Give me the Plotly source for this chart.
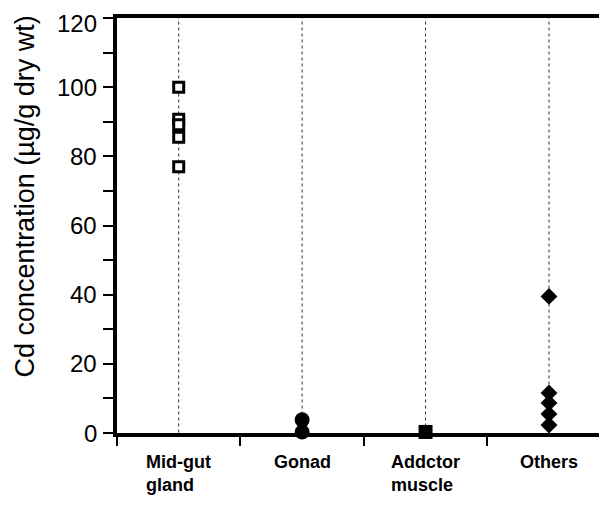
import plotly.graph_objects as go

categories = ["Mid-gut<br>gland", "Gonad", "Addctor<br>muscle", "Others"]
cat_pos = [0.5, 1.5, 2.5, 3.5]

midgut = [100, 90.7, 89.1, 85.5, 77.0]
gonad = [3.8, 0.3]
adductor = [0.3]
others = [39.5, 11.6, 8.7, 5.5, 2.3]

y_ticks = list(range(0, 121, 20))
y_minor = list(range(0, 121, 10))

FONT = "Liberation Sans, Arial, Helvetica, sans-serif"

fig = go.Figure()

# category guide lines
for xp in cat_pos:
    fig.add_shape(type="line", xref="x", yref="y", x0=xp, x1=xp, y0=-1.6, y1=120,
                  line=dict(color="#333", width=1, dash="dot"), layer="below")

def add_series(vals, xp, symbol, size, filled):
    fig.add_trace(go.Scatter(
        x=[xp] * len(vals), y=vals, mode="markers", cliponaxis=False,
        marker=dict(symbol=symbol, size=size,
                    color="black" if filled else "white",
                    line=dict(color="black", width=3 if not filled else 0)),
        showlegend=False))

add_series(midgut, cat_pos[0], "square", 10, False)
add_series(gonad, cat_pos[1], "circle", 15, True)
add_series(adductor, cat_pos[2], "square", 14, True)
add_series(others, cat_pos[3], "diamond", 13, True)

for name, xp in zip(categories, cat_pos):
    fig.add_annotation(x=xp, y=0, xref="x", yref="y",
                       text="<b>" + name.replace("<br>", "</b><br><b>") + "</b>",
                       showarrow=False,
                       xanchor="center", yanchor="top", align="left", yshift=-17,
                       font=dict(family=FONT, size=18, color="black"))

# y tick labels
for v in y_ticks:
    fig.add_annotation(x=0, y=v, xref="paper", yref="y", text=str(v),
                       showarrow=False, xanchor="right", yanchor="middle",
                       xshift=-19, yshift=(-5 if v == max(y_ticks) else 0),
                       borderpad=0,
                       font=dict(family=FONT, size=24, color="black"))

fig.add_annotation(x=0, y=0.57, xref="paper", yref="paper",
                   text="Cd concentration (µg/g dry wt)", textangle=-90,
                   showarrow=False, xanchor="center", yanchor="middle", xshift=-92,
                   font=dict(family=FONT, size=27, color="black"))

fig.update_layout(
    width=599, height=506,
    margin=dict(l=109, r=0, t=10, b=81),
    paper_bgcolor="white", plot_bgcolor="white",
    xaxis=dict(range=[0, 3.97], tickvals=[0, 1, 2, 3, 4], showticklabels=False,
               ticks="outside", ticklen=9, tickwidth=2, tickcolor="black",
               showgrid=False, zeroline=False, showline=True, linewidth=4,
               linecolor="black", mirror=True, automargin=False),
    yaxis=dict(range=[0, 120], tickvals=y_minor, showticklabels=False,
               ticks="outside", ticklen=10, tickwidth=2, tickcolor="black",
               showgrid=False, zeroline=False, showline=True, linewidth=4,
               linecolor="black", automargin=False),
)

fig.write_html("out.html")
